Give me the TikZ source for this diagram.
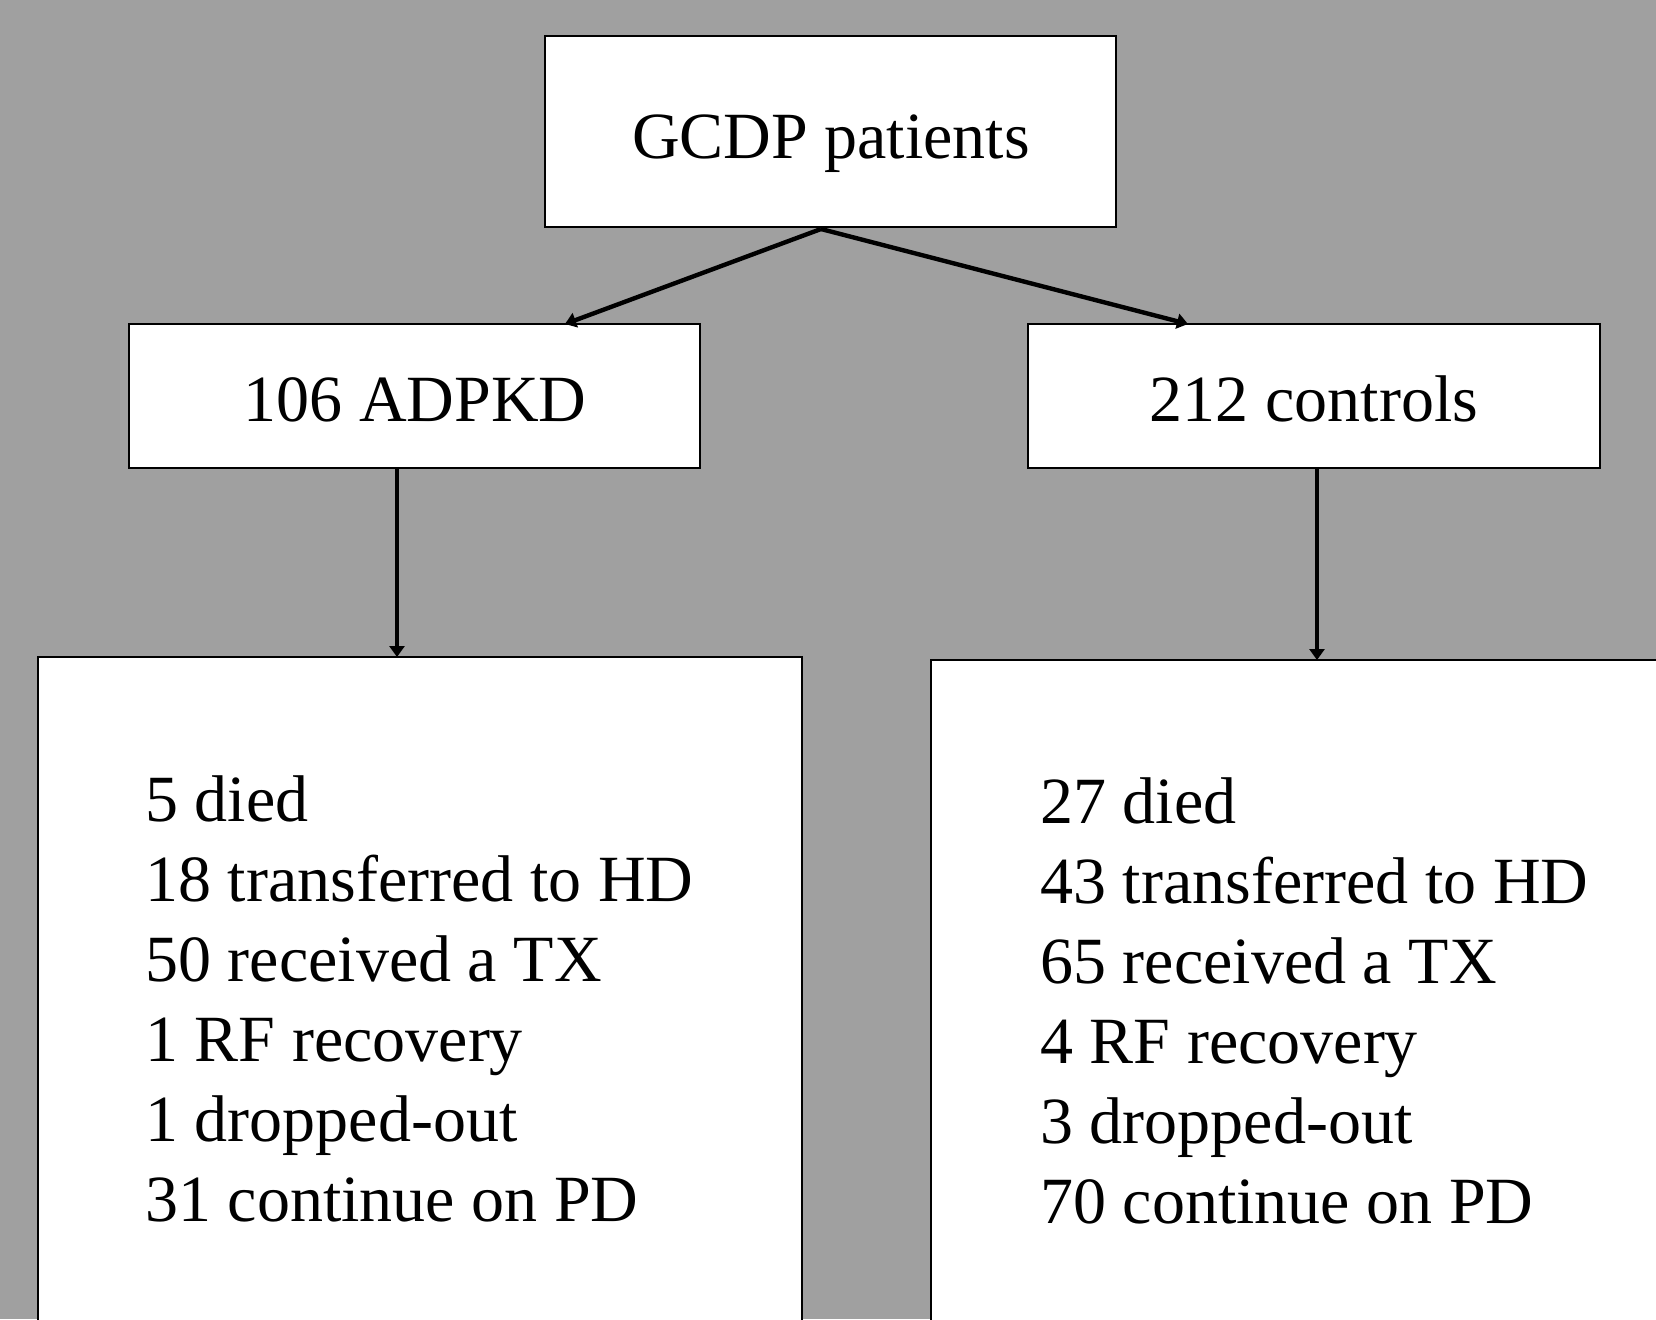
\documentclass[tikz,border=0pt]{standalone}
\usepackage{fontspec}
\setmainfont{Liberation Serif}
\usetikzlibrary{arrows.meta}
\definecolor{bg}{RGB}{160,160,160}
\begin{document}
\begin{tikzpicture}[x=0.5pt,y=-0.5pt,
  box/.style={draw=black,fill=white,line width=1pt,inner sep=0,outer sep=0},
  lbl/.style={font=\fontsize{33}{40}\selectfont,inner sep=0,anchor=base},
  item/.style={font=\fontsize{33}{40}\selectfont,inner sep=0,anchor=base west},
  arr/.style={line width=2.2pt,-{Triangle[length=5.5pt,width=7.5pt]}}]
\useasboundingbox (0,0) rectangle (1656,1319);
\clip (0,0) rectangle (1656,1319);
\fill[bg] (0,0) rectangle (1656,1319);

% boxes
\node[box,minimum width=285.5pt,minimum height=95.5pt] (gcdp) at (830.5,131.5) {};
\node[box,minimum width=285.5pt,minimum height=72pt] (adpkd) at (414.5,396) {};
\node[box,minimum width=286pt,minimum height=72pt] (ctrl) at (1314,396) {};
\node[box,minimum width=382pt,minimum height=381pt] (lres) at (420,1038) {};
\node[box,minimum width=400pt,minimum height=380pt] (rres) at (1331,1040) {};

% box texts
\node[lbl] (tg) at (831,158) {GCDP patients};
\node[lbl] (ta) at (415,421) {106 ADPKD};
\node[lbl] (tc) at (1314,421) {212 controls};

\foreach \t [count=\i] in {5 died,18 transferred to HD,50 received a TX,1 RF recovery,1 dropped-out,31 continue on PD}
  \node[item] (l\i) at (145,{821+80*(\i-1)}) {\t};
\foreach \t [count=\i] in {27 died,43 transferred to HD,65 received a TX,4 RF recovery,3 dropped-out,70 continue on PD}
  \node[item] (r\i) at (1040,{823+80*(\i-1)}) {\t};

% connector endpoints
\coordinate (apex) at (821,229);
\coordinate (aL) at (565,324);
\coordinate (aR) at (1188,324);
\coordinate (vLs) at (397,468);
\coordinate (vLe) at (397,657);
\coordinate (vRs) at (1317,468);
\coordinate (vRe) at (1317,660);

\draw[arr] (apex) -- (aL);
\draw[arr] (apex) -- (aR);
\draw[arr] (vLs) -- (vLe);
\draw[arr] (vRs) -- (vRe);
\end{tikzpicture}
\end{document}
